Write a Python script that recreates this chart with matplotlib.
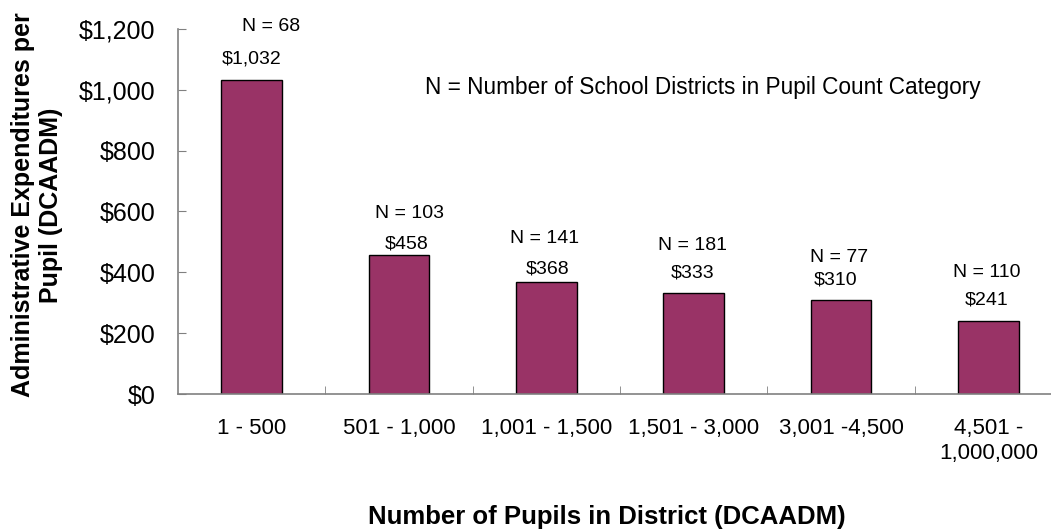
import matplotlib
matplotlib.use("Agg")
import matplotlib.pyplot as plt
import numpy as np

plt.rcParams['font.family'] = ['Liberation Sans', 'DejaVu Sans']

categories = ["1 - 500", "501 - 1,000", "1,001 - 1,500", "1,501 - 3,000",
              "3,001 -4,500", "4,501 -\n1,000,000"]
values = [1032, 458, 368, 333, 310, 241]
n_counts = [68, 103, 141, 181, 77, 110]
yticks = [0, 200, 400, 600, 800, 1000, 1200]

# label placement (data coords)
val_label_y = [1101, 493, 411, 398, 375, 309]
val_label_dx = [0.0, 0.05, 0.01, -0.01, -0.04, -0.01]
n_label_y = [1207, 595, 510, 487, 450, 401]
n_label_dx = [0.13, 0.07, -0.01, -0.01, -0.01, -0.01]

fig = plt.figure(figsize=(10.51, 5.31), dpi=100)
ax = fig.add_axes([178/1051, 1-394/531, 884/1051, 365/531])

x = np.arange(len(categories))
ax.bar(x, values, width=0.41, color='#993366', edgecolor='black', linewidth=1.0, zorder=2)

ax.set_xlim(-0.5, len(categories) - 0.5)
ax.set_ylim(0, 1200)
ax.set_yticks(yticks)
ax.set_yticklabels([f"${v:,}" for v in yticks], fontsize=18)
ax.set_xticks(x)
ax.set_xticklabels(categories, fontsize=16, va='top', linespacing=1.25)
ax.set_xticks(np.arange(0.5, len(categories) - 0.5, 1), minor=True)

ax.tick_params(axis='y', direction='in', length=6, color='#808080', pad=16)
ax.tick_params(axis='x', which='major', length=0, pad=17.5)
ax.tick_params(axis='x', which='minor', direction='in', length=6, color='#808080')

for side in ['top', 'right']:
    ax.spines[side].set_visible(False)
for side in ['left', 'bottom']:
    ax.spines[side].set_color('#808080')
    ax.spines[side].set_linewidth(1.2)

for i, v in enumerate(values):
    ax.text(x[i] + val_label_dx[i], val_label_y[i], f"${v:,}", ha='center', va='center',
            fontsize=14, clip_on=False)
    ax.text(x[i] + n_label_dx[i], n_label_y[i], f"N = {n_counts[i]}", ha='center', va='center',
            fontsize=14, clip_on=False)

ax.text(3.06, 1009, "N = Number of School Districts in Pupil Count Category",
        ha='center', va='center', fontsize=16.3)

fig.text(37/1051, 1-205/531, "Administrative Expenditures per\nPupil (DCAADM)",
         rotation=90, ha='center', va='center', fontsize=18, fontweight='bold',
         multialignment='center', linespacing=1.2)
fig.text(607/1051, 1-517/531, "Number of Pupils in District (DCAADM)",
         ha='center', va='center', fontsize=18.5, fontweight='bold')

fig.savefig("out.png", dpi=100)
